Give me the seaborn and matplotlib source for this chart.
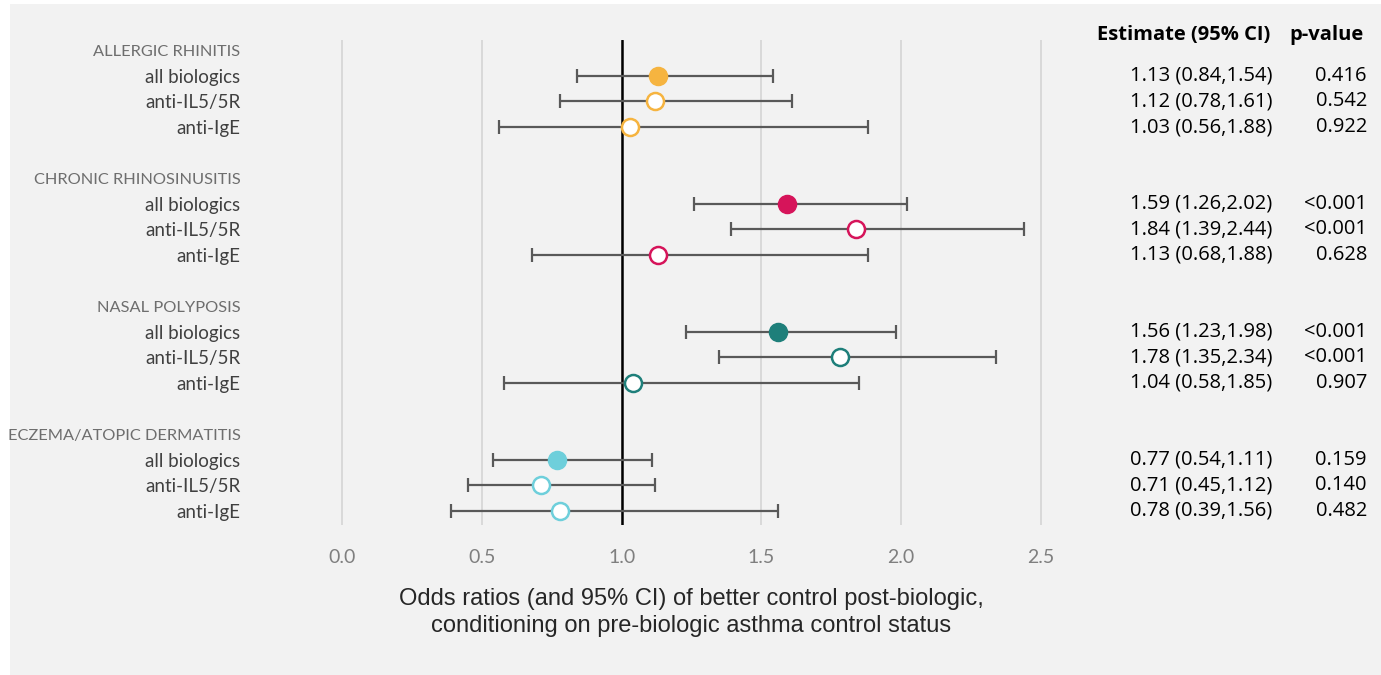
import matplotlib.pyplot as plt
import matplotlib.transforms as mtransforms
from matplotlib.patches import Rectangle
import pandas as pd
import seaborn as sns

groups = ["ALLERGIC RHINITIS", "CHRONIC RHINOSINUSITIS", "NASAL POLYPOSIS", "ECZEMA/ATOPIC DERMATITIS"]
group_colors = ["#F6B440", "#D6145A", "#1E7F7A", "#6ECFDB"]
subgroups = ["all biologics", "anti-IL5/5R", "anti-IgE"]

estimates = [1.13, 1.12, 1.03, 1.59, 1.84, 1.13, 1.56, 1.78, 1.04, 0.77, 0.71, 0.78]
lower = [0.84, 0.78, 0.56, 1.26, 1.39, 0.68, 1.23, 1.35, 0.58, 0.54, 0.45, 0.39]
upper = [1.54, 1.61, 1.88, 2.02, 2.44, 1.88, 1.98, 2.34, 1.85, 1.11, 1.12, 1.56]
pvalues = ["0.416", "0.542", "0.922", "<0.001", "<0.001", "0.628",
           "<0.001", "<0.001", "0.907", "0.159", "0.140", "0.482"]
xticks = [0.0, 0.5, 1.0, 1.5, 2.0, 2.5]

# row layout: header, 3 subgroups, blank line
records = []
ylabels = []
ypos = []
row = 0
for gi, g in enumerate(groups):
    ylabels.append(g)
    ypos.append(row)
    row += 1
    for si, s in enumerate(subgroups):
        k = gi * 3 + si
        records.append({"group": g, "sub": s, "row": row, "est": estimates[k],
                        "lo": lower[k], "hi": upper[k], "p": pvalues[k]})
        ylabels.append(s)
        ypos.append(row)
        row += 1
    row += 1
df = pd.DataFrame(records)

sns.set_theme(style="whitegrid")
plt.rcParams["font.family"] = ["Lato", "DejaVu Sans"]

W, H = 1381, 675
fig = plt.figure(figsize=(W / 100, H / 100), dpi=100)
fig.patch.set_facecolor("white")
fig.patches.append(Rectangle((10 / W, 0), 1, 1 - 4 / H, transform=fig.transFigure,
                             facecolor="#f2f2f2", edgecolor="none", zorder=-10))

x0, x1 = -0.05, 2.55
px_per_unit = 279.6
left_px = 342 + x0 * px_per_unit
right_px = 342 + x1 * px_per_unit
top_px, bottom_px = 40, 525
ax = fig.add_axes([left_px / W, 1 - bottom_px / H, (right_px - left_px) / W, (bottom_px - top_px) / H])
ax.set_facecolor("none")
ax.set_xlim(x0, x1)
ax.set_ylim(18.55, -0.4)
for s in ax.spines.values():
    s.set_visible(False)
ax.grid(False)
for t in xticks:
    ax.axvline(t, color="#d9d9d9", lw=1.4, zorder=0)
ax.axvline(1.0, color="black", lw=1.8, zorder=1)

ax.errorbar(df["est"], df["row"], xerr=[df["est"] - df["lo"], df["hi"] - df["est"]],
            fmt="none", ecolor="#595959", elinewidth=1.6, capsize=5, capthick=1.6, zorder=2)

for g, c in zip(groups, group_colors):
    sub = df[df["group"] == g]
    filled = sub[sub["sub"] == "all biologics"]
    hollow = sub[sub["sub"] != "all biologics"]
    sns.scatterplot(data=filled, x="est", y="row", color=c, edgecolor=c, s=170,
                    linewidth=1.0, ax=ax, zorder=3, legend=False)
    sns.scatterplot(data=hollow, x="est", y="row", color=c, facecolor="white", edgecolor=c,
                    s=150, linewidth=1.8, ax=ax, zorder=3, legend=False)

ax.set_xticks(xticks)
ax.set_xticklabels([f"{t:.1f}" for t in xticks], color="#7f7f7f", fontsize=14)
ax.tick_params(axis="x", length=0, pad=17)
ax.set_yticks(ypos)
ax.set_yticklabels(ylabels)
for lab in ax.get_yticklabels():
    if lab.get_text() in groups:
        lab.set_color("#6e6e6e")
        lab.set_fontsize(11.8)
    else:
        lab.set_color("#404040")
        lab.set_fontsize(13.5)
ax.tick_params(axis="y", length=0, pad=63)
ax.set_ylabel("")
ax.set_xlabel("Odds ratios (and 95% CI) of better control post-biologic,\n"
              "conditioning on pre-biologic asthma control status",
              fontsize=17, color="#262626", labelpad=16, linespacing=1.32,
              family=["Liberation Sans", "DejaVu Sans"])

# right-hand table
trans = mtransforms.blended_transform_factory(fig.transFigure, ax.transData)
tfont = ["Open Sans", "DejaVu Sans"]
ax.text(1270 / W, -0.6, "Estimate (95% CI)", transform=trans, ha="right", va="center",
        fontsize=14.5, fontweight="bold", color="black", family=tfont, clip_on=False)
ax.text(1364 / W, -0.6, "p-value", transform=trans, ha="right", va="center",
        fontsize=14.5, fontweight="bold", color="black", family=tfont, clip_on=False)
for _, r in df.iterrows():
    ax.text(1272 / W, r["row"], f"{r['est']:.2f} ({r['lo']:.2f},{r['hi']:.2f})", transform=trans,
            ha="right", va="center", fontsize=14.5, color="black", family=tfont, clip_on=False)
    ax.text(1367 / W, r["row"], r["p"], transform=trans, ha="right", va="center",
            fontsize=14.5, color="black", family=tfont, clip_on=False)

fig.savefig("out.png", dpi=100, facecolor=fig.get_facecolor())
